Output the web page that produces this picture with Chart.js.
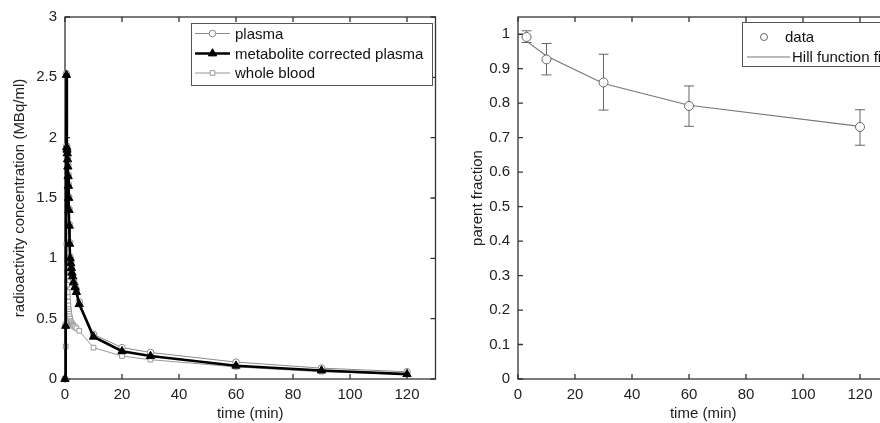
<!DOCTYPE html>
<html><head><meta charset="utf-8">
<script src="https://cdn.jsdelivr.net/npm/chart.js@4.4.1/dist/chart.umd.min.js"></script>
<style>
html,body{margin:0;padding:0;background:#fff;overflow:hidden;width:880px;height:423px;}
#c1{position:absolute;left:0;top:0;}
#c2{position:absolute;left:440px;top:0;}
</style></head><body>
<canvas id="c1" width="440" height="423"></canvas>
<canvas id="c2" width="450" height="423"></canvas>
<script>
// ---- Left panel data ----
const sampleTimes = [0, 0.25, 0.5, 0.6, 0.7, 0.8, 0.9, 1.0, 1.1, 1.2, 1.3, 1.4, 1.5, 1.6, 1.8, 2.0, 2.2, 2.4, 2.7, 3.0, 3.5, 4.0, 5, 10, 20, 30, 60, 90, 120];
const plasma = [0, 0.45, 2.53, 1.93, 1.91, 1.88, 1.83, 1.77, 1.69, 1.61, 1.51, 1.41, 1.28, 1.13, 1.01, 0.97, 0.93, 0.90, 0.86, 0.82, 0.78, 0.74, 0.64, 0.37, 0.26, 0.22, 0.14, 0.09, 0.06];
const metaboliteCorrected = [0, 0.44, 2.52, 1.92, 1.90, 1.87, 1.82, 1.76, 1.68, 1.60, 1.50, 1.40, 1.27, 1.12, 1.00, 0.96, 0.92, 0.88, 0.85, 0.80, 0.76, 0.72, 0.62, 0.35, 0.23, 0.19, 0.11, 0.07, 0.04];
const wholeBlood = [0, 0.27, 1.12, 0.93, 0.85, 0.78, 0.72, 0.68, 0.64, 0.61, 0.58, 0.56, 0.54, 0.52, 0.50, 0.48, 0.47, 0.46, 0.45, 0.44, 0.43, 0.42, 0.40, 0.26, 0.19, 0.16, 0.10, 0.06, 0.04];
const leftXTicks = [0, 20, 40, 60, 80, 100, 120];
const leftYTicks = [0, 0.5, 1, 1.5, 2, 2.5, 3];

// ---- Right panel data ----
const fractionTimes = [3, 10, 30, 60, 120];
const parentFraction = [0.992, 0.927, 0.86, 0.792, 0.731];
const fractionErrLow = [0.976, 0.882, 0.78, 0.733, 0.678];
const fractionErrHigh = [1.01, 0.973, 0.942, 0.85, 0.781];
const hillFit = [0.98, 0.937, 0.857, 0.794, 0.733];
const rightXTicks = [0, 20, 40, 60, 80, 100, 120];
const rightYTicks = [0, 0.1, 0.2, 0.3, 0.4, 0.5, 0.6, 0.7, 0.8, 0.9, 1];

const FONT = "'Liberation Sans', Arial, Helvetica, sans-serif";
Chart.defaults.font.family = FONT;
Chart.defaults.font.size = 15;
Chart.defaults.color = '#222';

function pts(xs, ys) { return xs.map((x, i) => ({ x: x, y: ys[i] })); }

const framePlugin = {
  id: 'frame',
  beforeDatasetsDraw(chart) {
    const ctx = chart.ctx, a = chart.chartArea, x = chart.scales.x, y = chart.scales.y;
    ctx.save();
    ctx.strokeStyle = '#333';
    ctx.lineWidth = 1.3;
    ctx.strokeRect(a.left, a.top, a.right - a.left, a.bottom - a.top);
    const L = 5;
    ctx.beginPath();
    x.ticks.forEach(t => {
      const p = x.getPixelForValue(t.value);
      ctx.moveTo(p, a.bottom); ctx.lineTo(p, a.bottom - L);
      ctx.moveTo(p, a.top); ctx.lineTo(p, a.top + L);
    });
    y.ticks.forEach(t => {
      const p = y.getPixelForValue(t.value);
      ctx.moveTo(a.left, p); ctx.lineTo(a.left + L, p);
      ctx.moveTo(a.right, p); ctx.lineTo(a.right - L, p);
    });
    ctx.stroke();
    ctx.restore();
  }
};

const boxLegendPlugin = {
  id: 'boxLegend',
  afterDraw(chart, args, opts) {
    if (!opts || !opts.box) return;
    const ctx = chart.ctx;
    const b = opts.box;
    ctx.save();
    ctx.fillStyle = '#fff';
    ctx.fillRect(b[0], b[1], b[2] - b[0], b[3] - b[1]);
    ctx.strokeStyle = '#555';
    ctx.lineWidth = 1;
    ctx.strokeRect(b[0] + 0.5, b[1] + 0.5, b[2] - b[0], b[3] - b[1]);
    ctx.font = '15px ' + FONT;
    ctx.textBaseline = 'middle';
    ctx.textAlign = 'left';
    opts.rows.forEach(r => {
      const ds = chart.data.datasets[r.index];
      if (r.line) {
        ctx.beginPath();
        ctx.strokeStyle = ds.borderColor;
        ctx.lineWidth = ds.borderWidth;
        ctx.moveTo(r.line[0], r.y); ctx.lineTo(r.line[1], r.y);
        ctx.stroke();
      }
      if (r.marker !== undefined) {
        ctx.fillStyle = ds.pointBackgroundColor;
        ctx.strokeStyle = ds.pointBorderColor;
        ctx.lineWidth = 1;
        Chart.helpers.drawPoint(ctx, { pointStyle: ds.pointStyle, radius: r.r || ds.pointRadius, borderWidth: 1, rotation: 0 }, r.marker, r.y);
      }
      ctx.fillStyle = '#111';
      ctx.fillText(ds.label, r.text, r.y + 1);
    });
    ctx.restore();
  }
};

const errorBarPlugin = {
  id: 'errorBars',
  beforeDatasetsDraw(chart, args, opts) {
    if (!opts || !opts.times) return;
    const ctx = chart.ctx, x = chart.scales.x, y = chart.scales.y;
    ctx.save();
    ctx.strokeStyle = '#666';
    ctx.lineWidth = 1;
    ctx.beginPath();
    opts.times.forEach((t, i) => {
      const px = x.getPixelForValue(t);
      const lo = y.getPixelForValue(opts.low[i]);
      const hi = y.getPixelForValue(opts.high[i]);
      ctx.moveTo(px, lo); ctx.lineTo(px, hi);
      ctx.moveTo(px - 5, lo); ctx.lineTo(px + 5, lo);
      ctx.moveTo(px - 5, hi); ctx.lineTo(px + 5, hi);
    });
    ctx.stroke();
    ctx.restore();
  }
};

function axis(min, max, tickVals, title, size, horizontal, titlePad) {
  return {
    type: 'linear', min: min, max: max,
    grid: { display: false, drawTicks: false },
    border: { display: false },
    afterBuildTicks(s) { s.ticks = tickVals.map(v => ({ value: v })); },
    afterFit(s) {
      if (horizontal) s.height = size; else s.width = size;
      s.paddingLeft = 0; s.paddingRight = 0; s.paddingTop = 0; s.paddingBottom = 0;
    },
    ticks: { padding: horizontal ? 7 : 8, color: '#222', font: { size: 15 }, autoSkip: false, maxRotation: 0,
             callback: v => String(v) },
    title: { display: true, text: title, color: '#222', font: { size: 15 }, padding: titlePad }
  };
}

new Chart(document.getElementById('c1'), {
  type: 'scatter',
  data: {
    datasets: [
      { label: 'plasma', data: pts(sampleTimes, plasma), showLine: true, borderColor: '#8a8a8a', borderWidth: 1,
        pointStyle: 'circle', pointRadius: 3.3, pointBorderColor: '#8a8a8a', pointBackgroundColor: '#fff', pointBorderWidth: 1, order: 1, clip: false },
      { label: 'metabolite corrected plasma', data: pts(sampleTimes, metaboliteCorrected), showLine: true, borderColor: '#000', borderWidth: 2.6,
        pointStyle: 'triangle', pointRadius: 4.8, pointBorderColor: '#000', pointBackgroundColor: '#000', pointBorderWidth: 1, order: 0, clip: false },
      { label: 'whole blood', data: pts(sampleTimes, wholeBlood), showLine: true, borderColor: '#999', borderWidth: 1,
        pointStyle: 'rect', pointRadius: 3.3, pointBorderColor: '#999', pointBackgroundColor: '#fff', pointBorderWidth: 1, order: 2, clip: false }
    ]
  },
  options: {
    responsive: false, animation: false, devicePixelRatio: 1,
    layout: { autoPadding: false, padding: { left: 0, right: 4.5, top: 17, bottom: 0 } },
    scales: {
      x: axis(0, 130, leftXTicks, 'time (min)', 44, true, { top: 0, bottom: 0 }),
      y: axis(0, 3, leftYTicks, 'radioactivity concentration (MBq/ml)', 65, false, { top: 11, bottom: 0 })
    },
    plugins: {
      legend: { display: false }, tooltip: { enabled: false },
      boxLegend: { box: [191, 23, 432, 85], rows: [
        { index: 0, y: 33.5, line: [195, 230], marker: 212.5, text: 235 },
        { index: 1, y: 53.5, line: [195, 230], marker: 212.5, text: 235 },
        { index: 2, y: 73, line: [195, 230], marker: 212.5, text: 235 }
      ] }
    }
  },
  plugins: [framePlugin, boxLegendPlugin]
});

new Chart(document.getElementById('c2'), {
  type: 'scatter',
  data: {
    datasets: [
      { label: 'data', data: pts(fractionTimes, parentFraction), showLine: false,
        pointStyle: 'circle', pointRadius: 4.5, pointBorderColor: '#666', pointBackgroundColor: 'rgba(255,255,255,0.9)', pointBorderWidth: 1, order: 0, clip: false },
      { label: 'Hill function fit', data: pts(fractionTimes, hillFit), showLine: true, borderColor: '#777', borderWidth: 1.2,
        pointRadius: 0, order: 1, clip: false }
    ]
  },
  options: {
    responsive: false, animation: false, devicePixelRatio: 1,
    layout: { autoPadding: false, padding: { left: 0, right: 1.5, top: 17, bottom: 0 } },
    scales: {
      x: axis(0, 130, rightXTicks, 'time (min)', 44, true, { top: 0, bottom: 0 }),
      y: axis(0, 1.05, rightYTicks, 'parent fraction', 78, false, { top: 29, bottom: 0 })
    },
    plugins: {
      legend: { display: false }, tooltip: { enabled: false },
      errorBars: { times: fractionTimes, low: fractionErrLow, high: fractionErrHigh },
      boxLegend: { box: [302, 22, 446, 66], rows: [
        { index: 0, y: 37, marker: 324, r: 3.5, text: 345 },
        { index: 1, y: 57, line: [307, 350], text: 352 }
      ] }
    }
  },
  plugins: [framePlugin, errorBarPlugin, boxLegendPlugin]
});
</script>
</body></html>
